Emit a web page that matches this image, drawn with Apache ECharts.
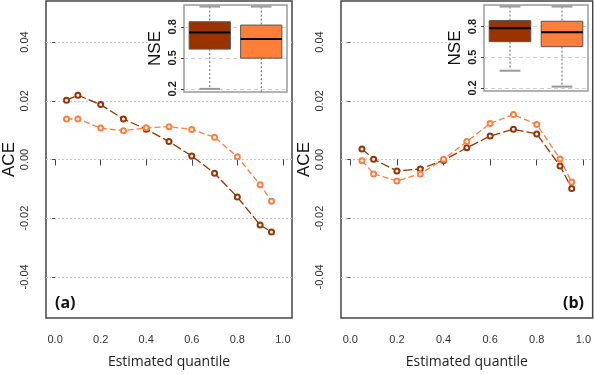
<!DOCTYPE html>
<html>
<head>
<meta charset="utf-8">
<script src="https://cdn.jsdelivr.net/npm/echarts@6/dist/echarts.min.js"></script>
<style>
  html, body { margin: 0; padding: 0; background: #fff; }
  #chart { width: 594px; height: 374px; }
</style>
</head>
<body>
<div id="chart"></div>
<script>
// quantiles on the x axis, ACE values
var quantiles = [0.05, 0.1, 0.2, 0.3, 0.4, 0.5, 0.6, 0.7, 0.8, 0.9, 0.95];
var aceA_dark = [0.0202, 0.0219, 0.0187, 0.0138, 0.0103, 0.0061, 0.0012, -0.0047, -0.0128, -0.0223, -0.0247];
var aceA_light = [0.0138, 0.0138, 0.0107, 0.0098, 0.0108, 0.0112, 0.0102, 0.0076, 0.0009, -0.0086, -0.0142];
var aceB_dark = [0.0036, 0.0001, -0.0039, -0.0032, -0.0003, 0.0040, 0.0080, 0.0103, 0.0087, -0.0022, -0.0099];
var aceB_light = [-0.0004, -0.0049, -0.0073, -0.0049, 0.0001, 0.0061, 0.0123, 0.0153, 0.0119, 0.0002, -0.0077];

// NSE boxplots: [low whisker, q1, median, q3, high whisker]
var nseA_dark = [0.20, 0.584, 0.745, 0.848, 0.995];
var nseA_light = [0.12, 0.497, 0.681, 0.816, 0.995];
var nseB_dark = [0.368, 0.652, 0.784, 0.858, 0.995];
var nseB_light = [0.213, 0.603, 0.745, 0.851, 0.995];

var xTicks = [0, 0.2, 0.4, 0.6, 0.8, 1.0];
var yTicks = [-0.04, -0.02, 0, 0.02, 0.04];
var nseTicks = [0.2, 0.5, 0.8];

var DARK = "#993300";
var LIGHT = "#ff7f3f";
var NSE_MIN = 0.17, NSE_MAX = 1.01;

var chart = echarts.init(document.getElementById("chart"));

function pairs(ys) {
  return quantiles.map(function (q, i) { return [q, ys[i]]; });
}

function mainX(idx) {
  return {
    gridIndex: idx, type: "value", min: -0.04, max: 1.04,
    axisLine: { show: false },
    axisTick: { show: true, length: 6, customValues: xTicks, lineStyle: { color: "#444", width: 1 } },
    axisLabel: { customValues: xTicks, margin: 16, fontSize: 11, color: "#333",
      fontFamily: "Liberation Sans", formatter: function (v) { return v.toFixed(1); } },
    splitLine: { show: false },
    name: "Estimated quantile", nameLocation: "middle", nameGap: 37,
    nameTextStyle: { fontSize: 14, color: "#222", fontFamily: "Open Sans" }
  };
}

function mainY(idx) {
  return {
    gridIndex: idx, type: "value", min: -0.054, max: 0.054,
    axisLine: { show: false },
    axisTick: { show: true, length: 3, customValues: yTicks, lineStyle: { color: "#444" } },
    axisLabel: { customValues: yTicks, rotate: 90, margin: 16, fontSize: 11, color: "#333",
      fontFamily: "Liberation Sans", formatter: function (v) { return v.toFixed(2); } },
    splitLine: { show: true, lineStyle: { color: "#c8c8c8", type: [2, 2], width: 1 } },
    name: "ACE", nameLocation: "middle", nameGap: 28, nameRotate: 90,
    nameTextStyle: { fontSize: 17, color: "#111", fontFamily: "Liberation Sans" }
  };
}

function insetX(idx) {
  return { gridIndex: idx, type: "value", min: 0.5, max: 2.5, show: false };
}

function insetY(idx) {
  return {
    gridIndex: idx, type: "value", min: NSE_MIN, max: NSE_MAX, z: 3,
    axisLine: { show: false },
    axisTick: { show: true, length: 3, customValues: nseTicks, lineStyle: { color: "#444" } },
    axisLabel: { customValues: nseTicks, rotate: 90, margin: 6, fontSize: 11, fontWeight: "bold",
      color: "#222", fontFamily: "Liberation Sans", formatter: function (v) { return v.toFixed(1); } },
    splitLine: { show: true, lineStyle: { color: "#cfcfcf", type: [4, 3], width: 1 } },
    name: "NSE", nameLocation: "middle", nameGap: 20, nameRotate: 90,
    nameTextStyle: { fontSize: 17, color: "#111", fontFamily: "Liberation Sans" }
  };
}

function lineSeries(idx, ys, color, dash) {
  return {
    type: "line", xAxisIndex: idx, yAxisIndex: idx, data: pairs(ys),
    symbol: "emptyCircle", symbolSize: 5,
    itemStyle: { color: color, borderWidth: 1.3 },
    lineStyle: { color: color, width: 1.3, type: dash },
    z: 2
  };
}

function renderBox(params, api) {
  var x = api.value(0);
  var lo = api.value(1), q1 = api.value(2), med = api.value(3), q3 = api.value(4), hi = api.value(5);
  var color = api.value(6) === 0 ? "#9a3300" : "#ff7f3a";
  var halfBox = 0.4, halfCap = 0.2;
  var loDraw = Math.max(lo, NSE_MIN);
  var tl = api.coord([x - halfBox, q3]);
  var br = api.coord([x + halfBox, q1]);
  var children = [];
  var c1 = api.coord([x, hi]), c2 = api.coord([x, q3]);
  var c3 = api.coord([x, q1]), c4 = api.coord([x, loDraw]);
  var whisk = { stroke: "#666", lineWidth: 1, lineDash: [2, 2] };
  children.push({ type: "line", shape: { x1: c1[0], y1: c1[1], x2: c2[0], y2: c2[1] }, style: whisk });
  children.push({ type: "line", shape: { x1: c3[0], y1: c3[1], x2: c4[0], y2: c4[1] }, style: whisk });
  var capHi1 = api.coord([x - halfCap, hi]), capHi2 = api.coord([x + halfCap, hi]);
  children.push({ type: "line", shape: { x1: capHi1[0], y1: capHi1[1], x2: capHi2[0], y2: capHi2[1] },
    style: { stroke: "#999", lineWidth: 2 } });
  if (lo >= NSE_MIN) {
    var capLo1 = api.coord([x - halfCap, lo]), capLo2 = api.coord([x + halfCap, lo]);
    children.push({ type: "line", shape: { x1: capLo1[0], y1: capLo1[1], x2: capLo2[0], y2: capLo2[1] },
      style: { stroke: "#999", lineWidth: 2 } });
  }
  children.push({ type: "rect", shape: { x: tl[0], y: tl[1], width: br[0] - tl[0], height: br[1] - tl[1] },
    style: { fill: color, stroke: "#555", lineWidth: 1 } });
  var m1 = api.coord([x - halfBox, med]), m2 = api.coord([x + halfBox, med]);
  children.push({ type: "line", shape: { x1: m1[0], y1: m1[1], x2: m2[0], y2: m2[1] },
    style: { stroke: "#000", lineWidth: 2 } });
  return { type: "group", children: children };
}

function boxSeries(idx, dark, light) {
  return {
    type: "custom", xAxisIndex: idx, yAxisIndex: idx, z: 4,
    renderItem: renderBox,
    encode: { x: 0, y: [1, 2, 3, 4, 5] },
    data: [[1].concat(dark, [0]), [2].concat(light, [1])]
  };
}

var option = {
  animation: false,
  backgroundColor: "#fff",
  title: [
    { text: "(a)", left: 50, top: 290, textStyle: { fontSize: 16, fontWeight: "bold", color: "#111", fontFamily: "Open Sans" } },
    { text: "(b)", left: 558, top: 290, textStyle: { fontSize: 16, fontWeight: "bold", color: "#111", fontFamily: "Open Sans" } }
  ],
  graphic: [
    { type: "rect", z: 1, shape: { x: 148, y: 2, width: 143, height: 97 }, style: { fill: "#fff" } },
    { type: "rect", z: 1, shape: { x: 450, y: 2, width: 142, height: 97 }, style: { fill: "#fff" } }
  ],
  grid: [
    { left: 41, top: 1, width: 251, height: 324, show: true, borderColor: "#444", borderWidth: 1.5 },
    { left: 341, top: 1, width: 252, height: 324, show: true, borderColor: "#444", borderWidth: 1.5 },
    { left: 184, top: 5, width: 103, height: 87, show: true, borderColor: "#999", borderWidth: 1.5, z: 3 },
    { left: 484, top: 5, width: 104, height: 86, show: true, borderColor: "#999", borderWidth: 1.5, z: 3 }
  ],
  xAxis: [mainX(0), mainX(1), insetX(2), insetX(3)],
  yAxis: [mainY(0), mainY(1), insetY(2), insetY(3)],
  series: [
    lineSeries(0, aceA_dark, DARK, [9, 3]),
    lineSeries(0, aceA_light, LIGHT, [6, 3]),
    lineSeries(1, aceB_dark, DARK, [9, 3]),
    lineSeries(1, aceB_light, LIGHT, [6, 3]),
    boxSeries(2, nseA_dark, nseA_light),
    boxSeries(3, nseB_dark, nseB_light)
  ]
};

chart.setOption(option);
</script>
</body>
</html>
